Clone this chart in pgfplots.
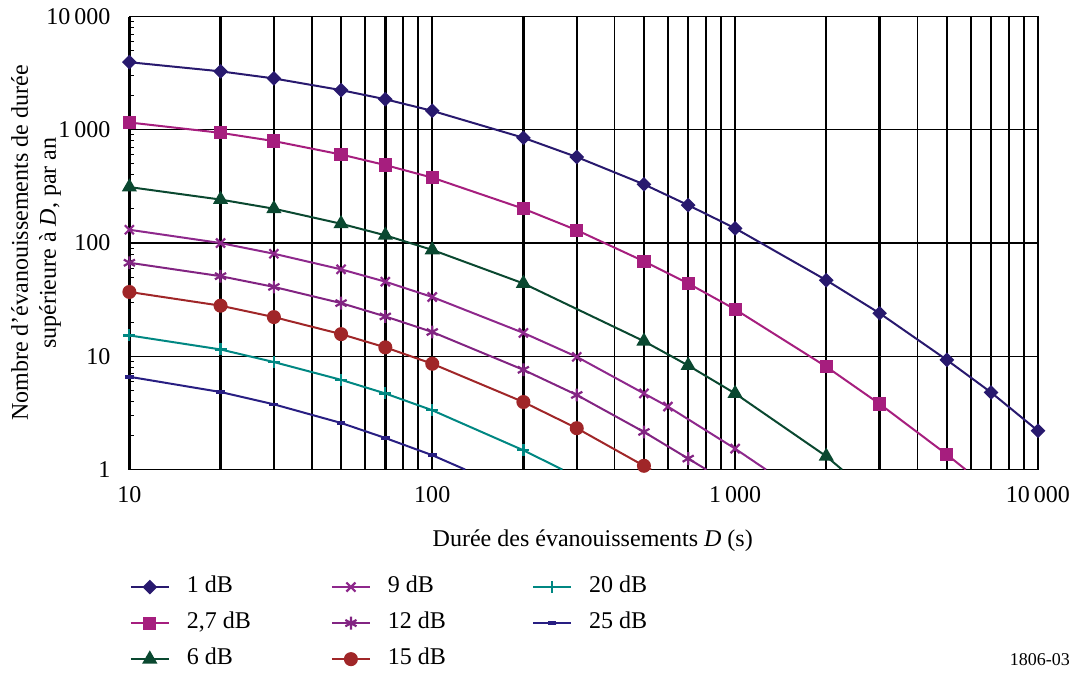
\documentclass[border=0pt]{standalone}
\usepackage{fontspec}
\setmainfont{Liberation Serif}
\usepackage{pgfplots}
\pgfplotsset{compat=1.18}

\definecolor{cA}{RGB}{40,25,110}
\definecolor{cB}{RGB}{166,30,126}
\definecolor{cC}{RGB}{10,72,48}
\definecolor{cD}{RGB}{142,40,140}
\definecolor{cE}{RGB}{130,36,130}
\definecolor{cF}{RGB}{160,38,40}
\definecolor{cG}{RGB}{0,135,130}
\definecolor{cH}{RGB}{40,30,130}

\begin{document}
\begin{tikzpicture}
\begin{axis}[
    name=ax,
    scale only axis, width=454pt, height=226.4pt,
    xmode=log, ymode=log,
    xmin=10, xmax=10000, ymin=1, ymax=10000,
    xtick={10,100,1000,10000},
    xticklabels={10,100,1\,000,10\,000},
    ytick={1,10,100,1000,10000},
    yticklabels={1,10,100,1\,000,10\,000},
    font=\fontsize{12}{14}\selectfont,
    /pgf/number format/assume math mode=true,
    xtick pos=bottom, ytick pos=left,
    xtick style={draw=none},
    major tick length=0pt,
    minor y tick style={black, line width=0.5pt},
    minor x tick style={draw=none},
    minor tick length=2.5pt,
    xmajorgrids=true, ymajorgrids=true, xminorgrids=true,
    major x grid style={black, line width=1.2pt},
    minor x grid style={black, line width=0.9pt},
    major y grid style={black, line width=0.6pt},
    extra x ticks={20,30,50,70,200,300,500,700,2000,3000,5000,7000},
    extra x tick labels={},
    extra x tick style={xmajorgrids=true, major x grid style={black, line width=1.2pt}, xtick style={draw=none}},
    axis line style={black, line width=0.7pt},
    yticklabel style={xshift=-6pt},
    xticklabel style={yshift=-5pt},
    xlabel={Durée des évanouissements \textit{D} (s)},
    xlabel style={at={(axis description cs:0.51,-0.156)}, anchor=center},
    ylabel={Nombre d'évanouissements de durée\\supérieure à \textit{D}, par an},
    ylabel style={at={(axis description cs:-0.1026,0.5)}, anchor=center, align=center},
    legend columns=3,
    legend style={draw=none, fill=none, inner sep=0pt,
        at={(axis description cs:0,-0.2386)}, anchor=north west,
        row sep=9pt,
        cells={anchor=west},
        nodes={inner sep=0pt, text height=7pt, text depth=2pt},
        /tikz/every odd column/.append style={column sep=8.5pt}},
    legend image code/.code={\draw[mark repeat=2,mark phase=2] plot coordinates {(0pt,0pt)(9.5pt,0pt)(19pt,0pt)};},
    every axis plot/.append style={line width=1pt},
]
\coordinate (O) at (rel axis cs:0,0);
\coordinate (T) at (rel axis cs:1,1);

% 1 dB
\addplot[color=cA, mark=square*, mark size=2.1pt, mark options={rotate=45}] coordinates {
 (10,3950)(20,3280)(30,2840)(50,2240)(70,1860)(100,1470)(200,850)(300,575)
 (500,330)(700,216)(1000,135)(2000,47)(3000,24)(5000,9.3)(7000,4.8)(10000,2.2)};
\addlegendentry{\makebox[72pt][l]{1 dB}}
% 9 dB
\addplot[color=cD, mark=x, mark size=3.2pt, mark options={line width=1.1pt}] coordinates {
 (10,131)(20,100)(30,80.5)(50,58.6)(70,45.6)(100,33.4)(200,16.1)(300,9.9)
 (500,4.7)(600,3.6)(1000,1.53)};
\addlegendentry{\makebox[72pt][l]{9 dB}}
% 20 dB
\addplot[color=cG, mark=+, mark size=3pt, mark options={line width=1.1pt}] coordinates {
 (10,15.3)(20,11.5)(30,8.9)(50,6.2)(70,4.7)(100,3.34)(200,1.48)};
\addlegendentry{\makebox[72pt][l]{20 dB}}
% 2,7 dB
\addplot[color=cB, mark=square*, mark size=2.8pt] coordinates {
 (10,1160)(20,940)(30,795)(50,605)(70,488)(100,378)(200,201)(300,130)
 (500,69)(700,44)(1000,26)(2000,8.1)(3000,3.8)(5000,1.36)};
\addlegendentry{\makebox[72pt][l]{2,7 dB}}
% 12 dB
\addplot[color=cE, mark=asterisk, mark size=3.2pt, mark options={line width=1.1pt}] coordinates {
 (10,67)(20,51)(30,41)(50,29.5)(70,22.5)(100,16.4)(200,7.6)(300,4.56)
 (500,2.15)(700,1.25)};
\addlegendentry{\makebox[72pt][l]{12 dB}}
% 25 dB
\addplot[color=cH, mark=-, mark size=2.2pt, mark options={line width=1.8pt}] coordinates {
 (10,6.6)(20,4.84)(30,3.77)(50,2.58)(70,1.9)(100,1.34)};
\addlegendentry{\makebox[72pt][l]{25 dB}}
% 6 dB
\addplot[color=cC, mark=triangle*, mark size=3.4pt] coordinates {
 (10,312)(20,242)(30,201)(50,148)(70,117)(100,87)(200,44)(500,13.6)
 (700,8.3)(1000,4.7)(2000,1.31)};
\addlegendentry{\makebox[72pt][l]{6 dB}}
% 15 dB
\addplot[color=cF, mark=*, mark size=3pt] coordinates {
 (10,37)(20,28)(30,22.2)(50,15.7)(70,12)(100,8.6)(200,3.95)(300,2.32)(500,1.08)};
\addlegendentry{\makebox[72pt][l]{15 dB}}

% ends of the curves down to the bottom axis
\addplot[forget plot, color=cB, no markers] coordinates {(5000,1.36)(5770,1)};
\addplot[forget plot, color=cC, no markers] coordinates {(2000,1.31)(2254,1)};
\addplot[forget plot, color=cD, no markers] coordinates {(1000,1.53)(1265,1)};
\addplot[forget plot, color=cE, no markers] coordinates {(700,1.25)(804,1)};
\addplot[forget plot, color=cF, no markers] coordinates {(500,1.08)(528,1)};
\addplot[forget plot, color=cG, no markers] coordinates {(200,1.48)(269,1)};
\addplot[forget plot, color=cH, no markers] coordinates {(100,1.34)(128.5,1)};
\end{axis}
\node[font=\fontsize{9}{11}\selectfont] at ([shift={(455pt,-95pt)}]O) {1806-03};
\useasboundingbox ([shift={(-64.65pt,-102.85pt)}]O) rectangle ([shift={(20pt,8.25pt)}]T);
\end{tikzpicture}
\end{document}
